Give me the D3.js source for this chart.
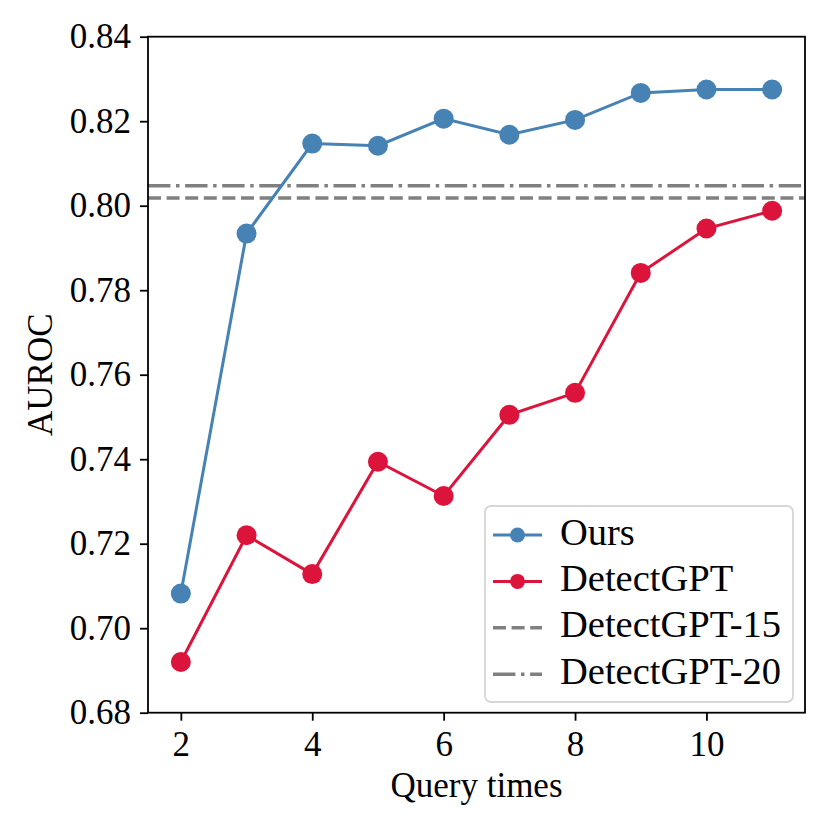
<!DOCTYPE html>
<html><head><meta charset="utf-8">
<script src="https://cdn.jsdelivr.net/npm/d3@7"></script>
<style>body{margin:0;background:#fff}svg text{font-family:"Liberation Serif","Times New Roman",serif}</style>
</head><body>
<svg id="c" width="830" height="830"></svg>
<script>
const queryTimes = [2,3,4,5,6,7,8,9,10,11];
const ours = [0.7082,0.7934,0.8147,0.8142,0.8206,0.8168,0.8203,0.8267,0.8275,0.8275];
const detectGPT = [0.6920,0.7220,0.7128,0.7394,0.7313,0.7505,0.7557,0.7841,0.7946,0.7988];
const detectGPT15 = 0.8018;
const detectGPT20 = 0.8047;
const xTicks = [2,4,6,8,10];
const yTicks = [0.68,0.70,0.72,0.74,0.76,0.78,0.80,0.82,0.84];
const legendLabels = ["Ours","DetectGPT","DetectGPT-15","DetectGPT-20"];

const svg = d3.select("#c");
const L=148,R=805,T=36.7,B=712.7;
const FS=35, LFS=38.5;
const x = d3.scaleLinear().domain([1.5,11.5]).range([L,R]);
const y = d3.scaleLinear().domain([0.68,0.84]).range([B,T]);
const blue="#4682b4", red="#dc143c", gray="#808080";
const dashed="13,5.6", dashdot="22.4,5.6,3.5,5.6";

// horizontal reference lines
svg.append("line").attr("x1",L).attr("x2",R).attr("y1",y(detectGPT15)).attr("y2",y(detectGPT15))
  .attr("stroke",gray).attr("stroke-width",3.5).attr("stroke-dasharray",dashed);
svg.append("line").attr("x1",L).attr("x2",R).attr("y1",y(detectGPT20)).attr("y2",y(detectGPT20))
  .attr("stroke",gray).attr("stroke-width",3.5).attr("stroke-dasharray",dashdot);

const line = d3.line().x((d,i)=>x(queryTimes[i])).y(d=>y(d));
[[ours,blue],[detectGPT,red]].forEach(([s,c])=>{
  svg.append("path").datum(s).attr("d",line).attr("fill","none").attr("stroke",c).attr("stroke-width",3);
  svg.selectAll(null).data(s).enter().append("circle")
    .attr("cx",(d,i)=>x(queryTimes[i])).attr("cy",d=>y(d)).attr("r",10).attr("fill",c);
});

// axes
const xa = svg.append("g").attr("transform",`translate(0,${B})`)
  .call(d3.axisBottom(x).tickValues(xTicks).tickSize(8).tickPadding(10).tickFormat(d3.format("d")));
const ya = svg.append("g").attr("transform",`translate(${L},0)`)
  .call(d3.axisLeft(y).tickValues(yTicks).tickSize(8).tickPadding(9).tickFormat(d3.format(".2f")));
[xa,ya].forEach(g=>{g.select(".domain").remove();
  g.selectAll("line").attr("stroke","#000").attr("stroke-width",1.8);
  g.selectAll("text").attr("font-size",FS).attr("fill","#000").attr("font-family","Liberation Serif");});
svg.append("rect").attr("x",L).attr("y",T).attr("width",R-L).attr("height",B-T)
  .attr("fill","none").attr("stroke","#000").attr("stroke-width",1.8);

svg.append("text").attr("x",(L+R)/2).attr("y",797).attr("text-anchor","middle").attr("font-size",FS).text("Query times");
svg.append("text").attr("transform",`translate(52,${(T+B)/2}) rotate(-90)`).attr("text-anchor","middle").attr("font-size",FS).text("AUROC");

// legend
const lg = svg.append("g");
lg.append("rect").attr("x",485).attr("y",506).attr("width",308).attr("height",196).attr("rx",6)
  .attr("fill","rgba(255,255,255,0.8)").attr("stroke","#d6d6d6").attr("stroke-width",1.8);
const styles=[{c:blue,m:true},{c:red,m:true},{c:gray,d:dashed},{c:gray,d:dashdot}];
legendLabels.forEach((t,i)=>{
  const yy = 535 + i*46.4;
  const s=styles[i];
  lg.append("line").attr("x1",493).attr("x2",542).attr("y1",yy).attr("y2",yy)
    .attr("stroke",s.c).attr("stroke-width",s.m?3:3.5).attr("stroke-dasharray",s.d||null);
  if(s.m) lg.append("circle").attr("cx",517.5).attr("cy",yy).attr("r",7.5).attr("fill",s.c);
  lg.append("text").attr("x",560).attr("y",yy).attr("dy","0.25em").attr("font-size",LFS).text(t);
});
</script>
</body></html>
